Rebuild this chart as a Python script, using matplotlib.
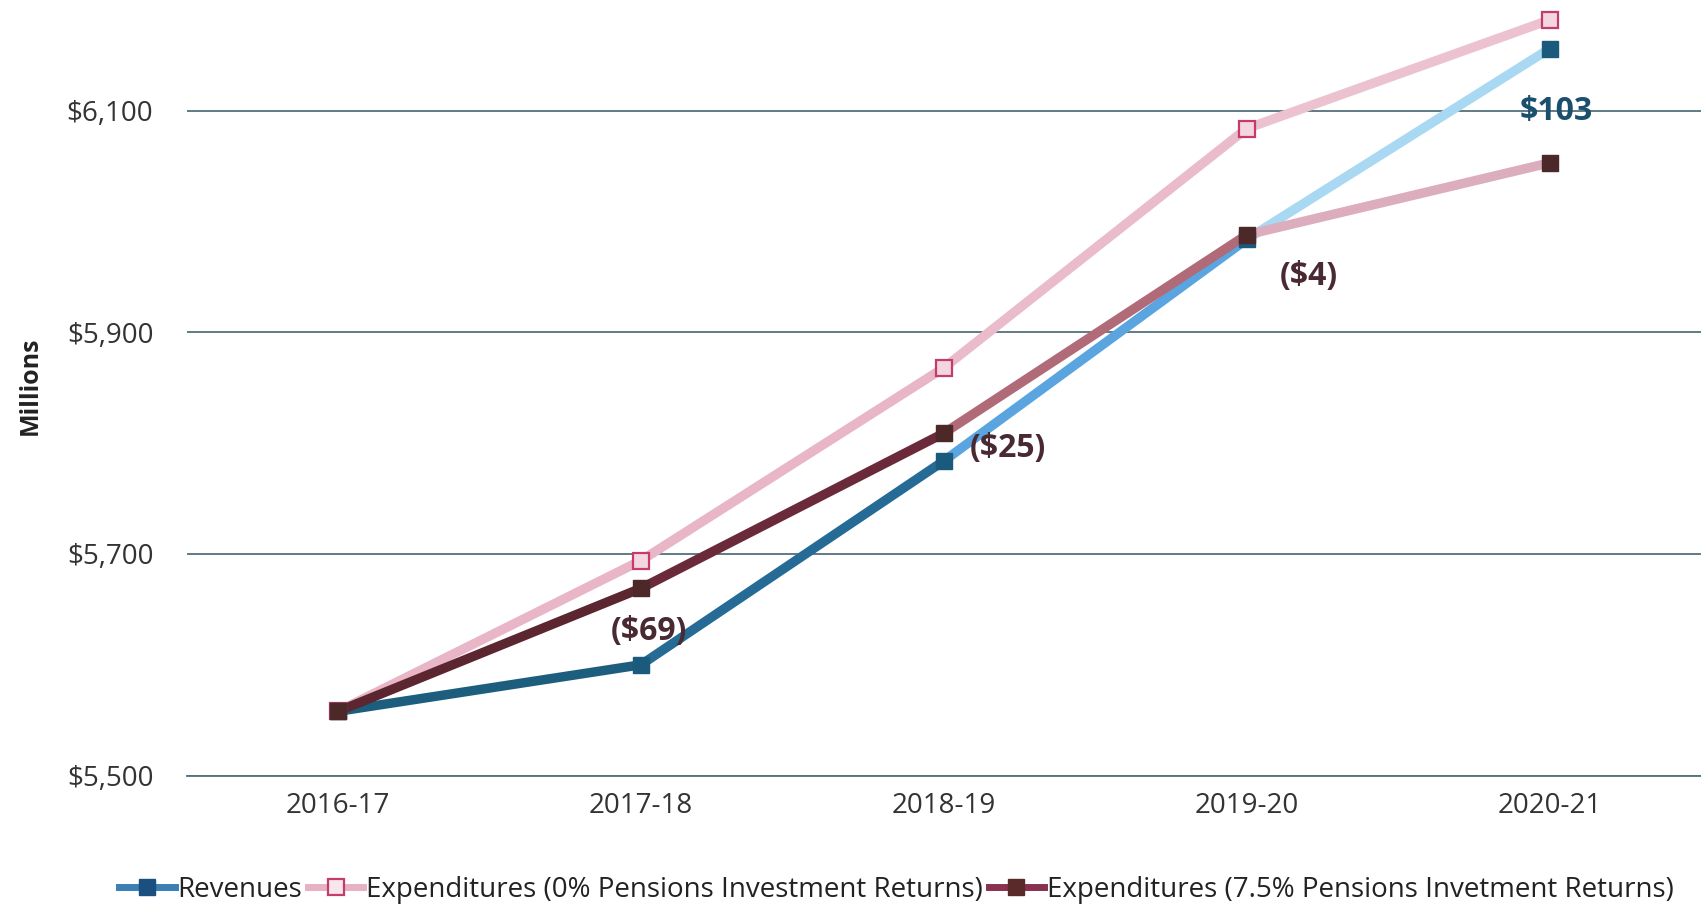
import matplotlib.pyplot as plt
from matplotlib.lines import Line2D

plt.rcParams['font.family'] = ['Open Sans', 'DejaVu Sans']

## Data (millions of $)
years = ['2016-17', '2017-18', '2018-19', '2019-20', '2020-21']
revenues = [5558, 5600, 5784, 5984, 6156]
exp_0pct = [5558, 5694, 5868, 6084, 6182]
exp_75pct = [5558, 5669, 5809, 5988, 6053]
y_ticks = [5500, 5700, 5900, 6100]

## Segment colours (the original line fades along its length)
rev_seg_colors = ['#1d5e7e', '#256b96', '#5aa5e0', '#a9d8f2']
exp0_seg_colors = ['#e8b6c6', '#e8b6c6', '#eabccb', '#ecc2d0']
exp75_seg_colors = ['#5c2630', '#6a2a3a', '#b06a78', '#dcaebd']

fig = plt.figure(figsize=(17.01, 9.07), dpi=100)
ax = fig.add_axes([0.1097, 0.1449, 0.8903, 0.8551])

x = list(range(len(years)))
lw = 6.8

def draw_series(vals, seg_colors, z):
    for i in range(len(vals) - 1):
        ax.plot(x[i:i + 2], vals[i:i + 2], color=seg_colors[i], lw=lw,
                solid_capstyle='butt', zorder=z)

draw_series(exp_0pct, exp0_seg_colors, 3)
draw_series(revenues, rev_seg_colors, 4)
draw_series(exp_75pct, exp75_seg_colors, 5)

ax.plot(x, exp_0pct, ls='none', marker='s', ms=11, mfc='#f3d6e2', mec='#c43c68', mew=1.6, zorder=6)
ax.plot(x, revenues, ls='none', marker='s', ms=12, mfc='#1a5a7c', mec='#1a5a7c', zorder=7)
ax.plot(x, exp_75pct, ls='none', marker='s', ms=12, mfc='#4c2828', mec='#4c2828', zorder=8)

## Gap labels: revenues minus expenditures (7.5%)
offsets = [None, (6, 24), (46, 9), (45, -27), (5, -45)]
for i in range(1, len(years)):
    d = revenues[i] - exp_75pct[i]
    if d < 0:
        txt, col = f'(${-d})', '#4a2a32'
    else:
        txt, col = f'${d}', '#1b4f6e'
    ax.annotate(txt, (x[i], revenues[i]), xytext=offsets[i], textcoords='offset points',
                ha='center', va='center', fontsize=23, fontweight='bold', color=col, zorder=9)

ax.set_xlim(-0.5, 4.5)
ax.set_ylim(5500, 6200)
ax.set_xticks(x)
ax.set_xticklabels(years)
ax.set_yticks(y_ticks)
ax.set_yticklabels([f'${v:,}' for v in y_ticks])
ax.tick_params(axis='both', length=0, labelsize=20, colors='#333333')
ax.tick_params(axis='x', pad=12)
ax.tick_params(axis='y', pad=24)
ax.grid(axis='y', color='#55707a', lw=1.3, zorder=1)
for s in ['top', 'right', 'left']:
    ax.spines[s].set_visible(False)
ax.spines['bottom'].set_color('#55707a')
ax.spines['bottom'].set_linewidth(1.3)
ax.set_axisbelow(True)

fig.text(0.018, 0.575, 'Millions', rotation=90, ha='center', va='center',
         fontsize=18, fontweight='bold', color='#222222')

handles = [
    Line2D([], [], color='#3b7fb5', lw=5, marker='s', ms=12, mfc='#1a4f80', mec='#1a4f80'),
    Line2D([], [], color='#e8b0c4', lw=5, marker='s', ms=11, mfc='#f8e6ee', mec='#c43c68', mew=1.6),
    Line2D([], [], color='#8a3050', lw=5, marker='s', ms=12, mfc='#5a2a2a', mec='#5a2a2a'),
]
labels = ['Revenues', 'Expenditures (0% Pensions Investment Returns)',
          'Expenditures (7.5% Pensions Invetment Returns)']
fig.legend(handles, labels, loc='center', bbox_to_anchor=(0.527, 0.019), ncol=3,
           frameon=False, fontsize=20, handlelength=2.0, handletextpad=0.1,
           columnspacing=0.2, labelcolor='#222222')

fig.savefig('out.png', dpi=100)
